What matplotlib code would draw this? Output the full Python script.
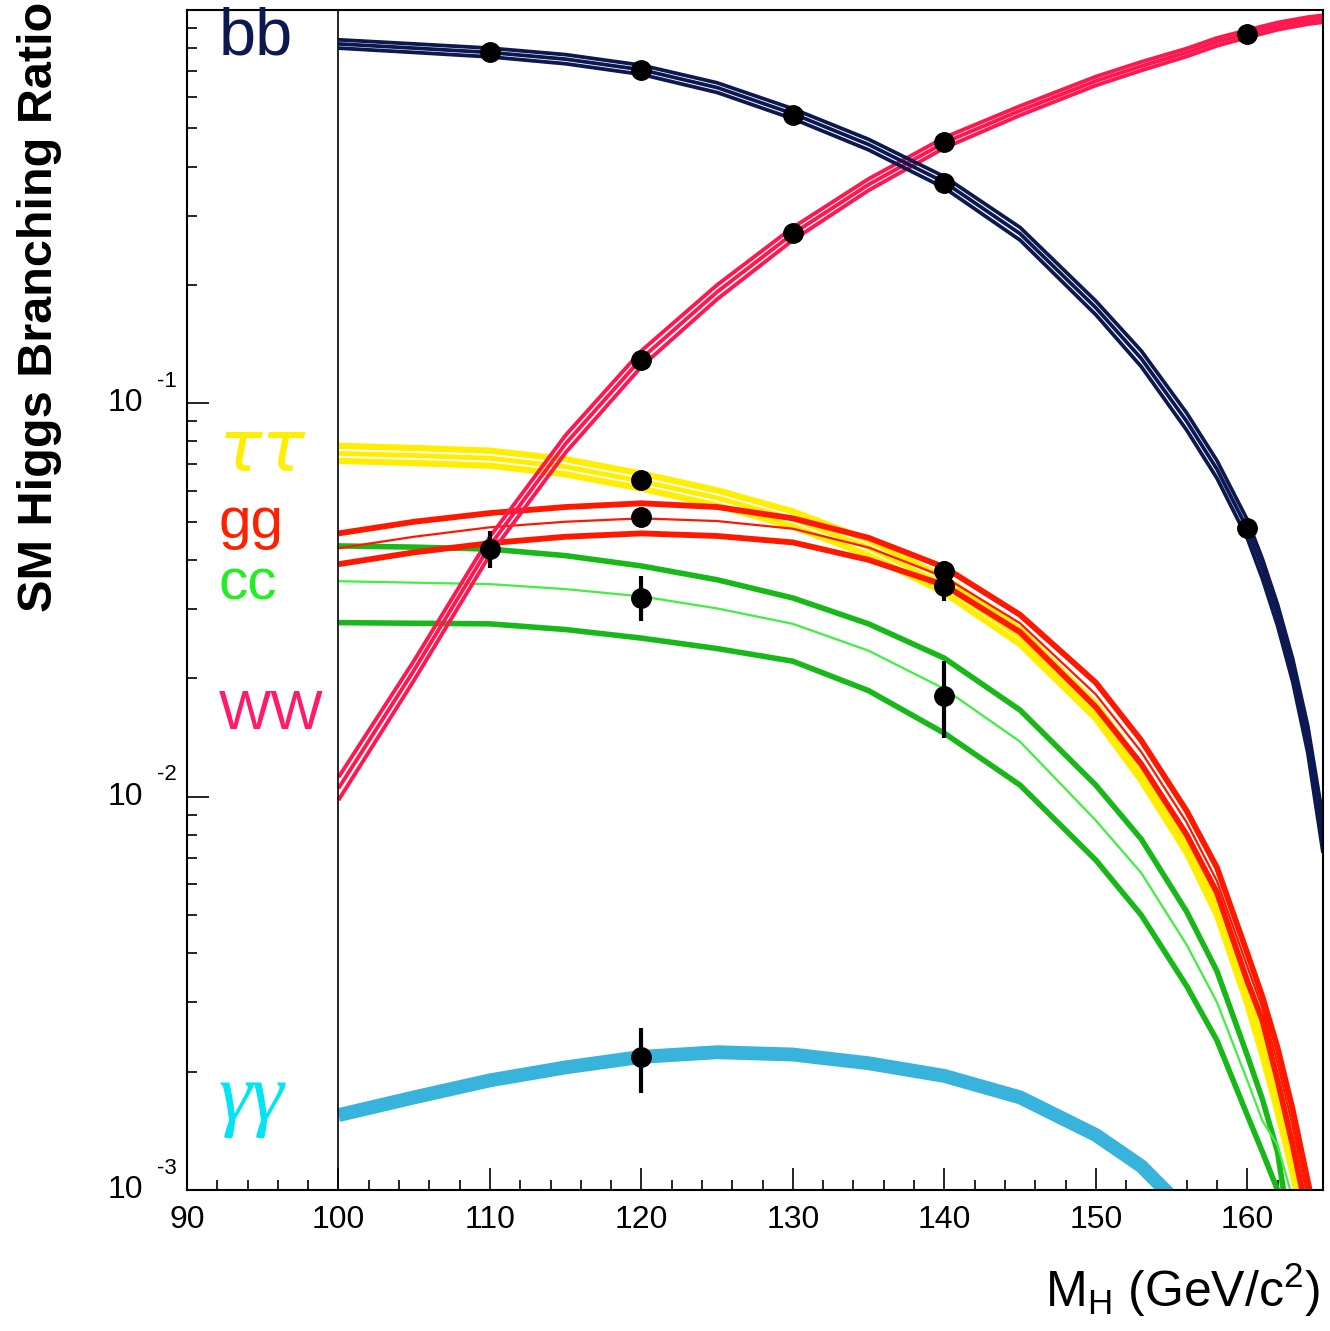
import numpy as np
import matplotlib.pyplot as plt
from matplotlib.ticker import FixedLocator, MultipleLocator, NullFormatter

plt.rcParams['font.family'] = ['Liberation Sans', 'DejaVu Sans']
plt.rcParams['mathtext.default'] = 'regular'

# Higgs mass grid (GeV/c^2)
mass = [100, 105, 110, 115, 120, 125, 130, 135, 140, 145,
        150, 153, 156, 158, 160, 161, 162, 163, 164, 165]

# bb band
bb_mid = [0.82, 0.80, 0.78, 0.75, 0.705, 0.635, 0.545, 0.455, 0.365, 0.27,
          0.175, 0.13, 0.09, 0.068, 0.048, 0.038, 0.029, 0.021, 0.014, 0.008]
bb_hi = [0.84, 0.82, 0.80, 0.77, 0.724, 0.653, 0.561, 0.469, 0.377, 0.28,
         0.182, 0.136, 0.0945, 0.0715, 0.0506, 0.0402, 0.0308, 0.0224, 0.0151, 0.0088]
bb_lo = [0.80, 0.78, 0.76, 0.73, 0.686, 0.617, 0.529, 0.441, 0.353, 0.26,
         0.168, 0.124, 0.0855, 0.0645, 0.0454, 0.0358, 0.0272, 0.0196, 0.0129, 0.0072]

# WW band
ww_mid = [0.0105, 0.021, 0.0435, 0.079, 0.13, 0.192, 0.27, 0.36, 0.46, 0.555,
          0.66, 0.72, 0.78, 0.83, 0.87, 0.89, 0.91, 0.925, 0.94, 0.95]
ww_hi = [0.0112, 0.0222, 0.0458, 0.083, 0.136, 0.2, 0.28, 0.372, 0.474, 0.57,
         0.677, 0.738, 0.798, 0.849, 0.889, 0.909, 0.929, 0.944, 0.959, 0.969]
ww_lo = [0.0098, 0.0198, 0.0412, 0.075, 0.124, 0.184, 0.26, 0.348, 0.446, 0.54,
         0.643, 0.702, 0.762, 0.811, 0.851, 0.871, 0.891, 0.906, 0.921, 0.931]

# tau tau band
tt_mid = [0.0746, 0.0737, 0.0725, 0.069, 0.0634, 0.0575, 0.0508, 0.043, 0.0345, 0.0255,
          0.0165, 0.0115, 0.0075, 0.0052, 0.0031, 0.0023, 0.00165, 0.00115, 0.00075, 0.0005]
tt_hi = [0.0780, 0.0770, 0.0758, 0.0721, 0.0663, 0.0601, 0.0531, 0.0449, 0.0361, 0.0266,
         0.0172, 0.0120, 0.0078, 0.0054, 0.00324, 0.0024, 0.00172, 0.0012, 0.00078, 0.00052]
tt_lo = [0.0714, 0.0705, 0.0694, 0.066, 0.0607, 0.055, 0.0486, 0.0411, 0.033, 0.0244,
         0.0158, 0.011, 0.0072, 0.005, 0.00297, 0.0022, 0.00158, 0.0011, 0.00072, 0.00048]

# gg band
gg_mid = [0.0428, 0.0458, 0.0484, 0.050, 0.051, 0.0502, 0.048, 0.043, 0.0362, 0.0276,
          0.0182, 0.013, 0.0086, 0.0061, 0.0037, 0.0029, 0.0021, 0.00145, 0.00095, 0.0006]
gg_hi = [0.0467, 0.050, 0.0526, 0.0545, 0.0557, 0.0545, 0.051, 0.0455, 0.0383, 0.029,
         0.0195, 0.0139, 0.0092, 0.0066, 0.0040, 0.0031, 0.0023, 0.0016, 0.00105, 0.0007]
gg_lo = [0.039, 0.0418, 0.0441, 0.0458, 0.0467, 0.046, 0.0443, 0.040, 0.0345, 0.0262,
         0.0169, 0.0121, 0.008, 0.0057, 0.0034, 0.0027, 0.0019, 0.0013, 0.00085, 0.00055]

# cc band
cc_mid = [0.0353, 0.035, 0.0347, 0.0337, 0.0323, 0.0301, 0.0275, 0.0235, 0.0188, 0.0138,
          0.0087, 0.0064, 0.0042, 0.0030, 0.0019, 0.0015, 0.0013, 0.00095, 0.0006, 0.0004]
cc_hi = [0.0434, 0.0431, 0.0426, 0.041, 0.0386, 0.0356, 0.032, 0.0275, 0.0225, 0.0166,
         0.0107, 0.0078, 0.0051, 0.0036, 0.0022, 0.0017, 0.00125, 0.0007, 0.0004, 0.0003]
cc_lo = [0.0277, 0.0276, 0.0275, 0.0266, 0.0253, 0.0238, 0.0221, 0.0186, 0.0145, 0.0107,
         0.0069, 0.0050, 0.0033, 0.0024, 0.00155, 0.00125, 0.0010, 0.0006, 0.0004, 0.0003]

# gamma gamma
mass_aa = [100, 105, 110, 115, 120, 125, 130, 135, 140, 145, 150, 153, 156]
aa_br = [0.00155, 0.00172, 0.0019, 0.00205, 0.00218, 0.00224, 0.00221, 0.0021,
         0.00195, 0.00172, 0.00138, 0.00115, 0.00088]

# measured points: mass, BR, error bar low end, error bar high end
pt_mass = [110, 120, 130, 140, 160, 110, 120, 130, 140, 160, 120, 140, 120, 140, 120, 140, 120]
pt_br = [0.782, 0.705, 0.541, 0.364, 0.0482, 0.0426, 0.1285, 0.2716, 0.4625, 0.869,
         0.064, 0.0344, 0.0514, 0.0375, 0.032, 0.018, 0.00218]
pt_lo = [0.782, 0.705, 0.541, 0.364, 0.0482, 0.0381, 0.1285, 0.2716, 0.4625, 0.869,
         0.064, 0.0314, 0.0514, 0.0375, 0.028, 0.0141, 0.00176]
pt_hi = [0.782, 0.705, 0.541, 0.364, 0.0482, 0.0473, 0.1285, 0.2716, 0.4625, 0.869,
         0.064, 0.0344, 0.0514, 0.0397, 0.0364, 0.0221, 0.00258]

# channel labels
labels = ['bb', 'ττ', 'gg', 'cc', 'WW', 'γγ']
label_y = [0.769, 0.0755, 0.0455, 0.0318, 0.0149, 0.00151]

# y axis decades and their exponents
ytick_vals = [1e-3, 1e-2, 1e-1]
ytick_exp = ['-3', '-2', '-1']

c_bb = '#0c1850'
c_ww = '#ff1850'
c_tt = '#ffee00'
c_gg = '#ff1800'
c_cc = '#18b818'
c_cc2 = '#40f040'
c_aa = '#38b4dc'

fig = plt.figure(figsize=(13.3, 13.31), dpi=100)
ax = fig.add_axes([187 / 1330, 1 - 1190 / 1331, (1323 - 187) / 1330, (1190 - 10) / 1331])
ax.set_yscale('log')
ax.set_xlim(90, 165)
ax.set_ylim(1e-3, 1.0)

# bands
for y in (tt_hi, tt_lo):
    ax.plot(mass, y, color=c_tt, lw=4.5, solid_capstyle='butt')
ax.plot(mass, tt_mid, color=c_tt, lw=3.5, solid_capstyle='butt')

ax.plot(mass, cc_hi, color=c_cc, lw=4, solid_capstyle='butt')
ax.plot(mass, cc_lo, color=c_cc, lw=4, solid_capstyle='butt')
ax.plot(mass, cc_mid, color=c_cc2, lw=1.6, solid_capstyle='butt')

ax.plot(mass, gg_hi, color=c_gg, lw=4.2, solid_capstyle='butt')
ax.plot(mass, gg_lo, color=c_gg, lw=4.2, solid_capstyle='butt')
ax.plot(mass, gg_mid, color=c_gg, lw=1.6, solid_capstyle='butt')

for y in (ww_hi, ww_lo, ww_mid):
    ax.plot(mass, y, color=c_ww, lw=2.8, solid_capstyle='butt')

for y in (bb_hi, bb_lo, bb_mid):
    ax.plot(mass, y, color=c_bb, lw=2.7, solid_capstyle='butt')

ax.plot(mass_aa, aa_br, color=c_aa, lw=10, solid_capstyle='butt')

# points
pt_br = np.array(pt_br)
yerr = [pt_br - np.array(pt_lo), np.array(pt_hi) - pt_br]
ax.errorbar(pt_mass, pt_br, yerr=yerr, fmt='o', color='black', ms=14,
            elinewidth=3, capsize=0, zorder=5)

ax.axvline(100, color='black', lw=1.2)

# channel names in the 90-100 strip
label_colors = [c_bb, '#ffee00', '#ff2000', '#22ee22', '#ff1a6a', '#00e4f4']
label_sizes = [48, 52, 42, 42, 40, 60]
for name, yv, col, fs in zip(labels, label_y, label_colors, label_sizes):
    if name in ('ττ', 'γγ'):
        ax.text(92.1, yv, name, color=col, fontsize=fs, family=['DejaVu Sans'] if name == 'ττ' else ['Liberation Serif'],
                style='oblique' if name == 'ττ' else 'italic',
                va='baseline' if name == 'γγ' else 'center')
    else:
        ax.text(92.1, yv, name, color=col, fontsize=fs, va='baseline')

# ticks
ax.xaxis.set_major_locator(MultipleLocator(10))
ax.xaxis.set_minor_locator(MultipleLocator(2))
ax.yaxis.set_major_locator(FixedLocator(ytick_vals))
ax.yaxis.set_minor_locator(FixedLocator([k * 10.0 ** e for e in (-3, -2, -1) for k in range(2, 10)]))
ax.yaxis.set_minor_formatter(NullFormatter())
ax.yaxis.set_major_formatter(NullFormatter())
ax.tick_params(which='both', direction='in', top=False, right=False, width=1.2)
ax.tick_params(which='major', length=16)
ax.tick_params(which='minor', length=7.5)
ax.tick_params(axis='x', which='major', labelsize=23, pad=11)
for s in ax.spines.values():
    s.set_linewidth(1.5)

# ROOT-style y labels: "10" with exponent raised to its right
for val, ex in zip(ytick_vals, ytick_exp):
    ax.annotate('10', xy=(0, val), xycoords=('axes fraction', 'data'),
                xytext=(-44, 0), textcoords='offset pixels',
                ha='right', va='center', fontsize=23)
    ax.annotate(ex, xy=(0, val), xycoords=('axes fraction', 'data'),
                xytext=(-10, 22), textcoords='offset pixels',
                ha='right', va='center', fontsize=16)

fig.text(40 / 1330, 1 - 2 / 1331, 'SM Higgs Branching Ratio', rotation=90,
         ha='center', va='top', fontsize=35, fontweight='bold')
fig.text(1320 / 1330, 1 - 1290 / 1331, r'M$_{H}$ (GeV/c$^{2}$)',
         ha='right', va='center', fontsize=36)

fig.savefig('out.png', dpi=100, facecolor='white')
